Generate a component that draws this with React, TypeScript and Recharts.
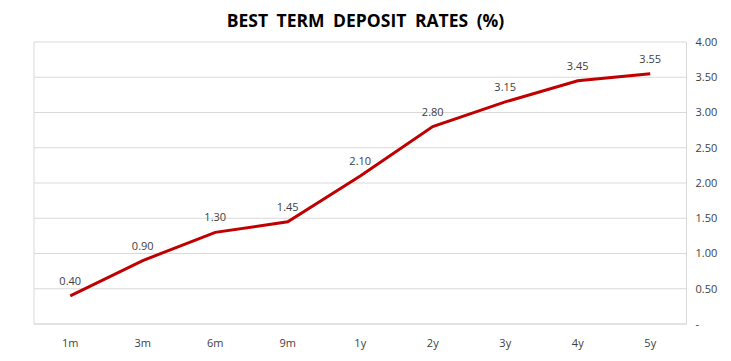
import React from "react";
import { LineChart, Line, XAxis, YAxis, CartesianGrid, LabelList } from "recharts";

const categories = ["1m", "3m", "6m", "9m", "1y", "2y", "3y", "4y", "5y"];
const rates = [0.4, 0.9, 1.3, 1.45, 2.1, 2.8, 3.15, 3.45, 3.55];
const yTicks = [0, 0.5, 1, 1.5, 2, 2.5, 3, 3.5, 4];

const data = categories.map((c, i) => ({ term: c, rate: rates[i] }));

const FONT = "'Open Sans', 'Liberation Sans', sans-serif";

export default function App() {
  return (
    <div style={{ position: "absolute", left: 0, top: 0, width: 731, height: 361, background: "#fff" }}>
      <div
        style={{
          position: "absolute",
          left: 0,
          top: 8,
          width: 731,
          textAlign: "center",
          fontFamily: FONT,
          fontWeight: 700,
          fontSize: 17.5,
          color: "#000",
          wordSpacing: 4,
        }}
      >
        BEST TERM DEPOSIT RATES (%)
      </div>
      <LineChart
        width={731}
        height={361}
        data={data}
        margin={{ top: 42, right: 0, bottom: 7, left: 34 }}
      >
        <CartesianGrid
          stroke="#d9d9d9"
          strokeWidth={1}
          horizontalValues={yTicks}
          verticalCoordinatesGenerator={({ offset }: any) => [offset.left, offset.left + offset.width]}
        />
        <XAxis
          dataKey="term"
          axisLine={{ stroke: "#d9d9d9" }}
          tickLine={false}
          height={30}
          tickMargin={9}
          padding={{ left: 36.25, right: 36.25 }}
          tick={{ fill: "#404040", fontSize: 11, fontFamily: FONT }}
          interval={0}
        />
        <YAxis
          orientation="right"
          width={44.5}
          domain={[0, 4]}
          ticks={yTicks}
          axisLine={false}
          tickLine={false}
          tickMargin={3}
          tick={{ fill: "#404040", fontSize: 11, fontFamily: FONT, textAnchor: "start" }}
          tickFormatter={(v: number) => (v === 0 ? "-" : v.toFixed(2))}
        />
        <Line
          type="linear"
          dataKey="rate"
          stroke="#c00000"
          strokeWidth={3}
          dot={false}
          isAnimationActive={false}
        >
          <LabelList
            dataKey="rate"
            position="top"
            offset={11}
            formatter={(v: number) => v.toFixed(2)}
            style={{ fill: "#404040", fontSize: 11, fontFamily: FONT }}
          />
        </Line>
      </LineChart>
    </div>
  );
}
